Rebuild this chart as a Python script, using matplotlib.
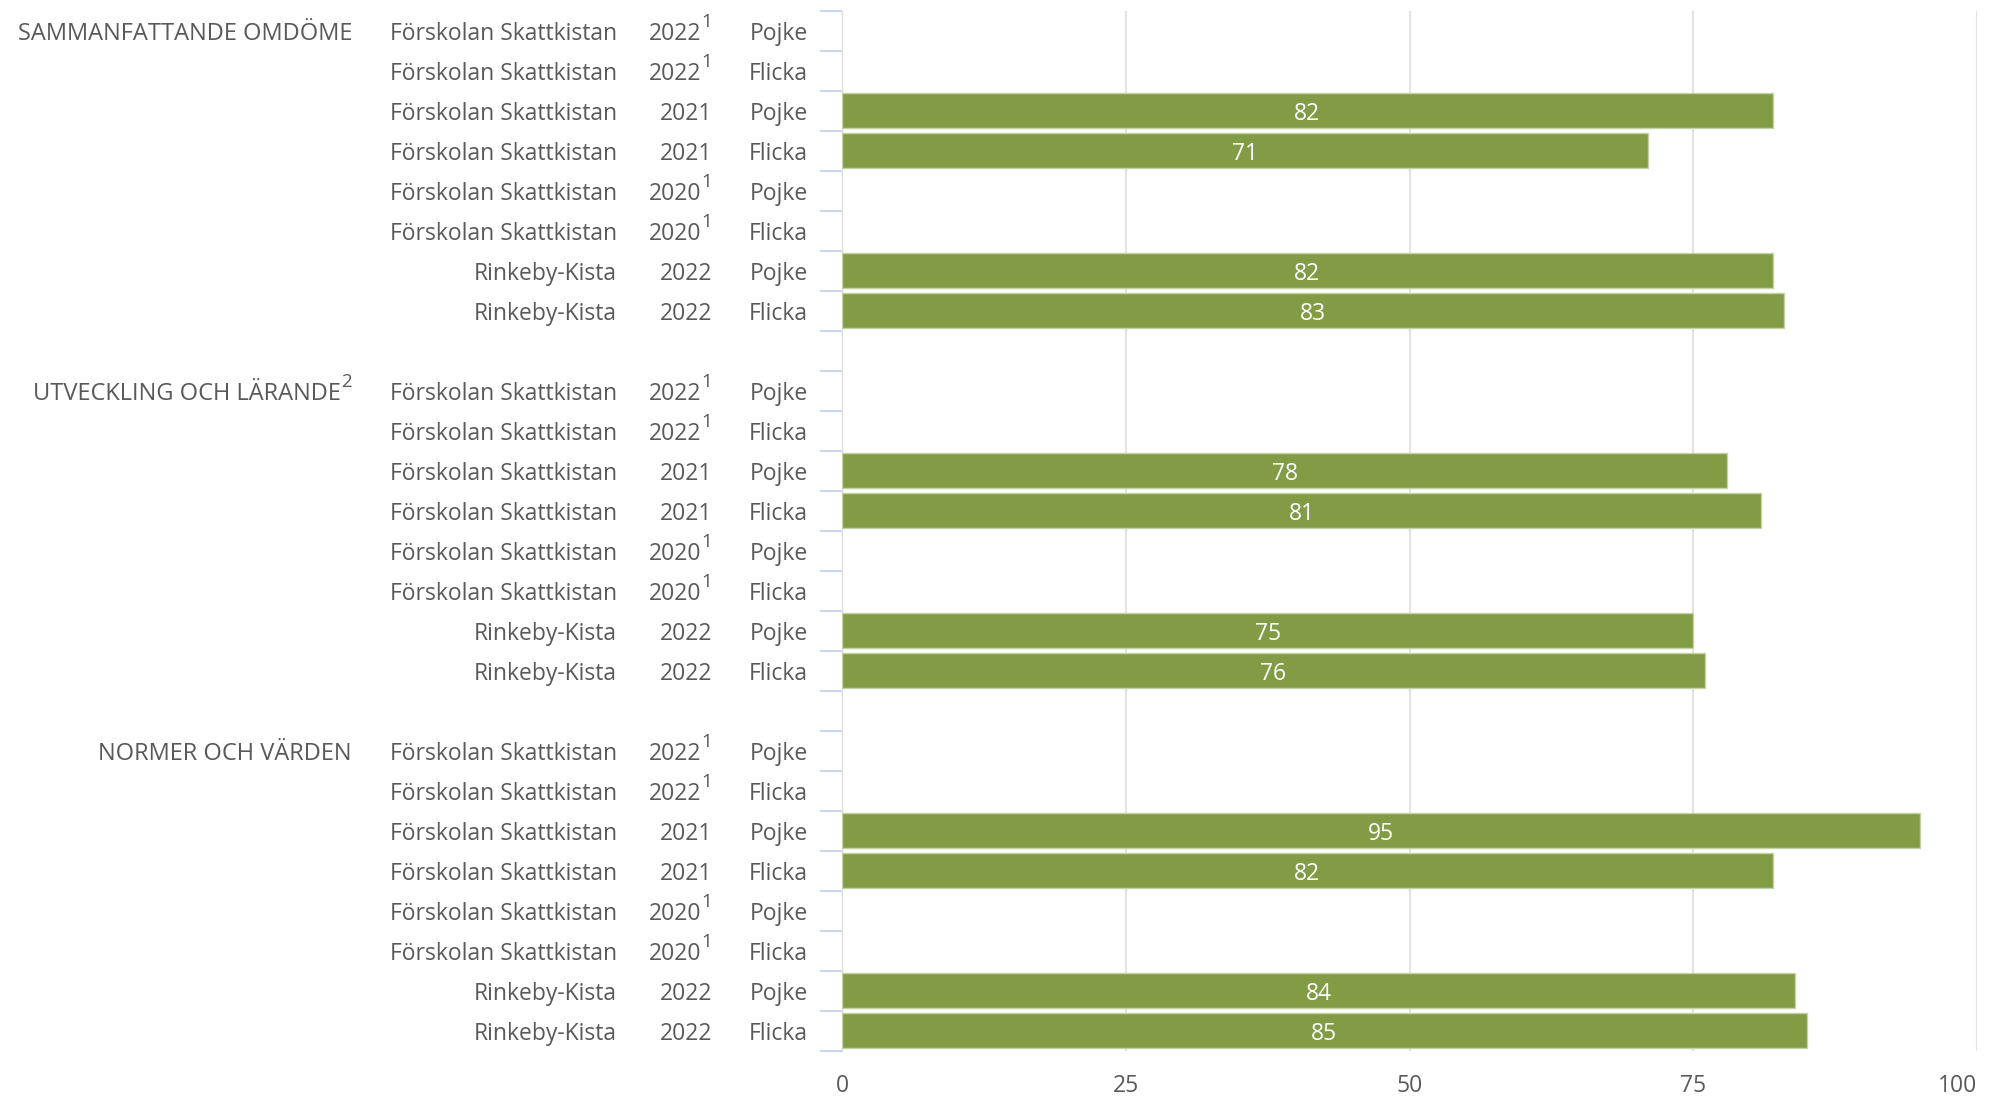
import numpy as np
import matplotlib
matplotlib.use("Agg")
import matplotlib.pyplot as plt
from matplotlib.transforms import blended_transform_factory

# Data
grupper = ["SAMMANFATTANDE OMDÖME", "UTVECKLING OCH LÄRANDE", "NORMER OCH VÄRDEN"]
grupp_fotnot = ["", "2", ""]
enheter = ["Förskolan Skattkistan", "Förskolan Skattkistan", "Förskolan Skattkistan",
           "Förskolan Skattkistan", "Förskolan Skattkistan", "Förskolan Skattkistan",
           "Rinkeby-Kista", "Rinkeby-Kista"]
ar = ["2022", "2022", "2021", "2021", "2020", "2020", "2022", "2022"]
ar_fotnot = ["1", "1", "", "", "1", "1", "", ""]
kon = ["Pojke", "Flicka", "Pojke", "Flicka", "Pojke", "Flicka", "Pojke", "Flicka"]
sammanfattande = [np.nan, np.nan, 82, 71, np.nan, np.nan, 82, 83]
utveckling = [np.nan, np.nan, 78, 81, np.nan, np.nan, 75, 76]
normer = [np.nan, np.nan, 95, 82, np.nan, np.nan, 84, 85]
varden = [sammanfattande, utveckling, normer]
xticks = [0, 25, 50, 75, 100]

plt.rcParams['font.family'] = ['Open Sans', 'DejaVu Sans']
textfarg = '#595959'
stapelfarg = '#829c45'
FS = 16.5

W, H = 1998, 1096
fig = plt.figure(figsize=(W / 100, H / 100), dpi=100)
ax = fig.add_axes([842 / W, 1 - 1050.5 / H, 1135 / W, 1040 / H])

n_rad = len(kon)
steg = n_rad + 1
tr = blended_transform_factory(fig.transFigure, ax.transData)

def skriv(x_px, y, txt, fotnot, fs=FS, sup_w=8.0):
    # text högerställd vid x_px, med ev. upphöjd fotnot
    off = -sup_w if fotnot else 0
    ax.annotate(txt, xy=(x_px / W, y), xycoords=tr, xytext=(off, 0),
                textcoords='offset points', ha='right', va='center_baseline',
                fontsize=fs, color=textfarg, annotation_clip=False)
    if fotnot:
        ax.annotate(fotnot, xy=(x_px / W, y), xycoords=tr, xytext=(0, 7.5),
                    textcoords='offset points', ha='right', va='center_baseline',
                    fontsize=13.5, color=textfarg, annotation_clip=False)

for g, namn in enumerate(grupper):
    pos = np.arange(n_rad) + g * steg
    v = np.array(varden[g], dtype=float)
    ax.barh(pos, v, height=0.875, color=stapelfarg, edgecolor='#c4d3a3',
            linewidth=1, zorder=3)
    for p, val in zip(pos, v):
        if not np.isnan(val):
            ax.text(val / 2, p, f"{val:.0f}", ha='center', va='center_baseline',
                    color='white', fontsize=FS, zorder=4)
    skriv(352, pos[0], namn, grupp_fotnot[g], fs=17, sup_w=8.0)
    for i in range(n_rad):
        skriv(617, pos[i], enheter[i], "")
        skriv(712, pos[i], ar[i], ar_fotnot[i])
        skriv(808, pos[i], kon[i], "")

total = len(grupper) * steg - 1
ax.set_ylim(total - 0.5, -0.5)
ax.set_xlim(0, 100)

# kategorigränser som små streck
ax.set_yticks(np.arange(total + 1) - 0.5)
ax.set_yticklabels([])
ax.tick_params(axis='y', length=16, width=1.5, color='#c9d5ea')

ax.set_xticks(xticks)
ax.set_xticklabels([str(t) for t in xticks])
ax.tick_params(axis='x', length=0, pad=17, labelsize=FS, labelcolor=textfarg)
ax.get_xticklabels()[-1].set_ha('right')

ax.grid(axis='x', color='#e3e3e3', linewidth=1.5, zorder=0)
ax.set_axisbelow(True)
for s in ['top', 'right', 'bottom']:
    ax.spines[s].set_visible(False)
ax.spines['left'].set_color('#e0e0e0')
ax.spines['left'].set_linewidth(1)

fig.savefig("out.png", dpi=100)
